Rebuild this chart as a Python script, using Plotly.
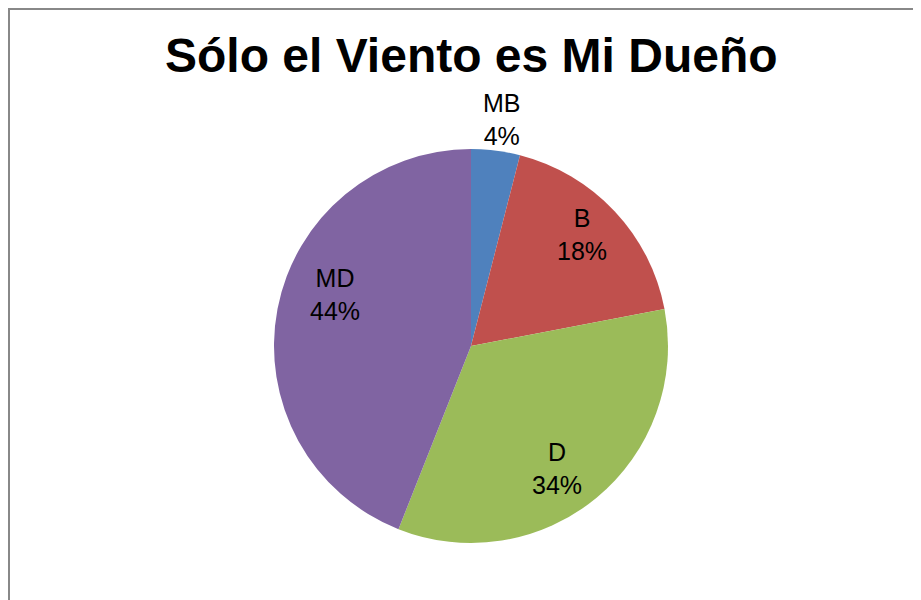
import math
import plotly.graph_objects as go

labels = ["MB", "B", "D", "MD"]
values = [4, 18, 34, 44]
colors = ["#4F81BD", "#C0504D", "#9BBB59", "#8064A2"]
title = "Sólo el Viento es Mi Dueño"

# ajustes de colocación de etiquetas (radio relativo, giro en grados)
label_r = [1.16, 0.80, 0.76, 0.74]
label_nudge = [0.5, -2, 4.6, 10]

W, H = 921, 600
cx, cy, R = 463, 338, 197  # centro y radio de la torta en píxeles

fig = go.Figure(go.Pie(
    labels=labels,
    values=values,
    sort=False,
    direction="clockwise",
    rotation=0,
    marker=dict(colors=colors, line=dict(width=0)),
    textinfo="none",
    domain=dict(x=[(cx - R) / W, (cx + R) / W], y=[(H - cy - R) / H, (H - cy + R) / H]),
    showlegend=False,
    hoverinfo="label+percent",
))

total = sum(values)
acc = 0
for lab, v, rf, nd in zip(labels, values, label_r, label_nudge):
    mid = (acc + v / 2) / total * 360 + nd
    acc += v
    px = cx + rf * R * math.sin(math.radians(mid))
    py = cy - rf * R * math.cos(math.radians(mid))
    fig.add_annotation(text=f"{lab}<br>{round(v / total * 100)}%",
                       x=px / W, y=1 - py / H, xref="paper", yref="paper",
                       showarrow=False, xanchor="center", yanchor="middle",
                       font=dict(family="Liberation Sans, Arial", size=25, color="black"))

# marco gris del gráfico
fig.add_shape(type="rect", xref="paper", yref="paper",
              x0=1 / W, x1=1.05, y0=-0.05, y1=1 - 1 / H,
              line=dict(color="#888888", width=2), fillcolor="rgba(0,0,0,0)")

fig.add_annotation(text="<b>" + title + "</b>", x=463 / W, y=1 - 47 / H,
                   xref="paper", yref="paper", showarrow=False,
                   xanchor="center", yanchor="middle",
                   font=dict(family="Liberation Sans, Arial", size=48, color="black"))

fig.update_layout(
    width=W, height=H,
    margin=dict(l=0, r=0, t=0, b=0),
    paper_bgcolor="white",
    plot_bgcolor="white",
)

fig.write_html("out.html")
